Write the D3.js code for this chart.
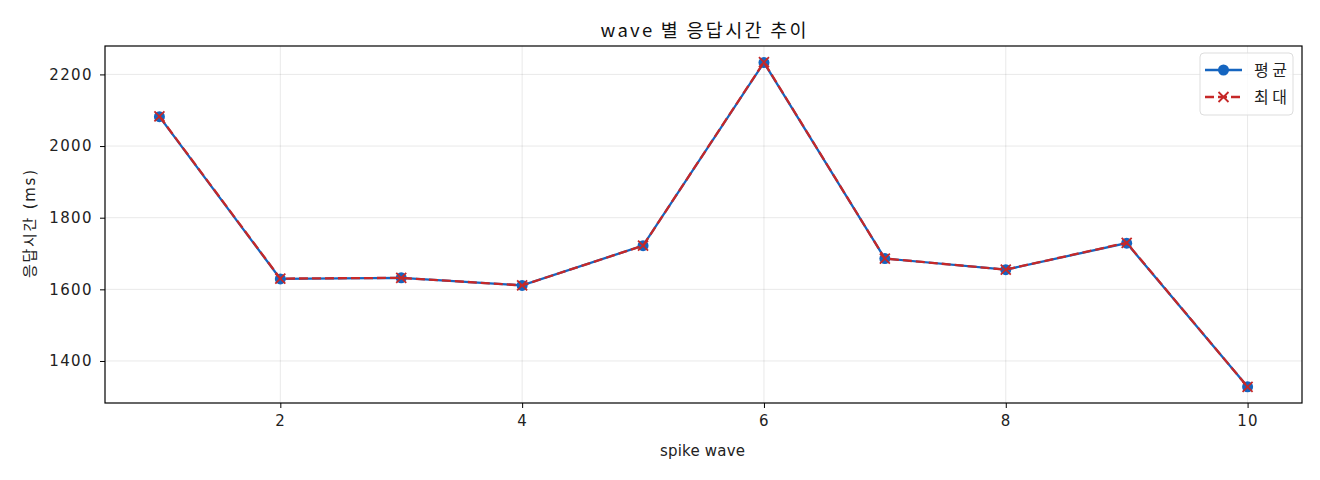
<!DOCTYPE html>
<html><head><meta charset="utf-8">
<script src="https://cdn.jsdelivr.net/npm/d3@7"></script>
<style>
body{margin:0;background:#fff;}
svg{font-family:"DejaVu Sans","Noto Sans CJK KR",sans-serif;}
</style></head>
<body><svg id="c" width="1320" height="480"></svg>
<script>
const waves = [1,2,3,4,5,6,7,8,9,10];
const avgMs = [2082,1629,1632,1611,1722,2233,1686,1655,1729,1328];
const maxMs = [2083,1630,1632,1611,1722,2234,1686,1655,1730,1328];
const xTicks = [2,4,6,8,10];
const yTicks = [1400,1600,1800,2000,2200];
const seriesNames = ["평균","최대"];

const svg = d3.select("#c");
const L=105,R=1302,T=46,B=403;
const x = d3.scaleLinear().domain([0.55,10.45]).range([L,R]);
const yMin = d3.min(avgMs.concat(maxMs)), yMax = d3.max(avgMs.concat(maxMs));
const pad = (yMax-yMin)*0.05;
const y = d3.scaleLinear().domain([yMin-pad,yMax+pad]).range([B,T]);
const BLUE="#1565c0", RED="#c62828";

// grid
const g = svg.append("g");
g.selectAll(".gx").data(xTicks).join("line")
  .attr("x1",d=>x(d)).attr("x2",d=>x(d)).attr("y1",T).attr("y2",B)
  .attr("stroke","#000").attr("stroke-opacity",0.09).attr("stroke-width",1);
g.selectAll(".gy").data(yTicks).join("line")
  .attr("y1",d=>y(d)).attr("y2",d=>y(d)).attr("x1",L).attr("x2",R)
  .attr("stroke","#000").attr("stroke-opacity",0.09).attr("stroke-width",1);

// axes
const xa = svg.append("g").attr("transform",`translate(0,${B})`)
  .call(d3.axisBottom(x).tickValues(xTicks).tickSize(5).tickPadding(7).tickFormat(d3.format("d")));
const ya = svg.append("g").attr("transform",`translate(${L},0)`)
  .call(d3.axisLeft(y).tickValues(yTicks).tickSize(5).tickPadding(7).tickFormat(d3.format("d")));
[xa,ya].forEach(a=>{
  a.select(".domain").remove();
  a.selectAll("text").attr("font-size",15).attr("letter-spacing","1.4px").attr("fill","#222")
    .attr("font-family",'"DejaVu Sans",sans-serif');
  a.selectAll("line").attr("stroke","#000").attr("stroke-width",1);
});
svg.append("rect").attr("x",L).attr("y",T).attr("width",R-L).attr("height",B-T)
  .attr("fill","none").attr("stroke","#000").attr("stroke-width",1.2);

// lines
const line = d3.line().x((d,i)=>x(waves[i])).y(d=>y(d));
svg.append("path").datum(avgMs).attr("d",line).attr("fill","none")
  .attr("stroke",BLUE).attr("stroke-width",2.3);
svg.selectAll(".ca").data(avgMs).join("circle")
  .attr("cx",(d,i)=>x(waves[i])).attr("cy",d=>y(d)).attr("r",5.5).attr("fill",BLUE);
svg.append("path").datum(maxMs).attr("d",line).attr("fill","none")
  .attr("stroke",RED).attr("stroke-width",2.3).attr("stroke-dasharray","9,4");
const xm = (cx,cy,s)=>`M${cx-s},${cy-s}L${cx+s},${cy+s}M${cx-s},${cy+s}L${cx+s},${cy-s}`;
svg.selectAll(".cm").data(maxMs).join("path")
  .attr("d",(d,i)=>xm(x(waves[i]),y(d),5)).attr("stroke",RED).attr("stroke-width",1.8).attr("fill","none");

// labels
svg.append("text").attr("x",(L+R)/2).attr("y",37).attr("text-anchor","middle")
  .attr("font-size",18.5).attr("fill","#111").attr("textLength",206).attr("lengthAdjust","spacing")
  .attr("font-family",'"Noto Sans CJK KR",sans-serif')
  .text("wave 별 응답시간 추이");
svg.append("text").attr("x",(L+R)/2-1).attr("y",456).attr("text-anchor","middle")
  .attr("font-size",15).attr("fill","#222").attr("textLength",85).attr("lengthAdjust","spacing")
  .text("spike wave");
svg.append("text").attr("transform",`translate(35,${224}) rotate(-90)`).attr("text-anchor","middle")
  .attr("font-size",15).attr("fill","#222").attr("textLength",108).attr("lengthAdjust","spacing")
  .text("응답시간 (ms)");

// legend
const lg = svg.append("g");
lg.append("rect").attr("x",1200).attr("y",53).attr("width",93).attr("height",62).attr("rx",4)
  .attr("fill","#fff").attr("fill-opacity",0.8).attr("stroke","#ddd").attr("stroke-width",1);
const ly = [70,97];
lg.append("line").attr("x1",1205).attr("x2",1242).attr("y1",ly[0]).attr("y2",ly[0]).attr("stroke",BLUE).attr("stroke-width",2.3);
lg.append("circle").attr("cx",1223.5).attr("cy",ly[0]).attr("r",5.5).attr("fill",BLUE);
lg.append("line").attr("x1",1205).attr("x2",1242).attr("y1",ly[1]).attr("y2",ly[1]).attr("stroke",RED).attr("stroke-width",2.3).attr("stroke-dasharray","9,4");
lg.append("path").attr("d",xm(1223.5,ly[1],5)).attr("stroke",RED).attr("stroke-width",1.8).attr("fill","none");
seriesNames.forEach((n,i)=>{
  lg.append("text").attr("x",1254).attr("y",ly[i]+6).attr("font-size",16).attr("fill","#222")
    .attr("textLength",33).attr("lengthAdjust","spacing").text(n);
});
</script></body></html>
